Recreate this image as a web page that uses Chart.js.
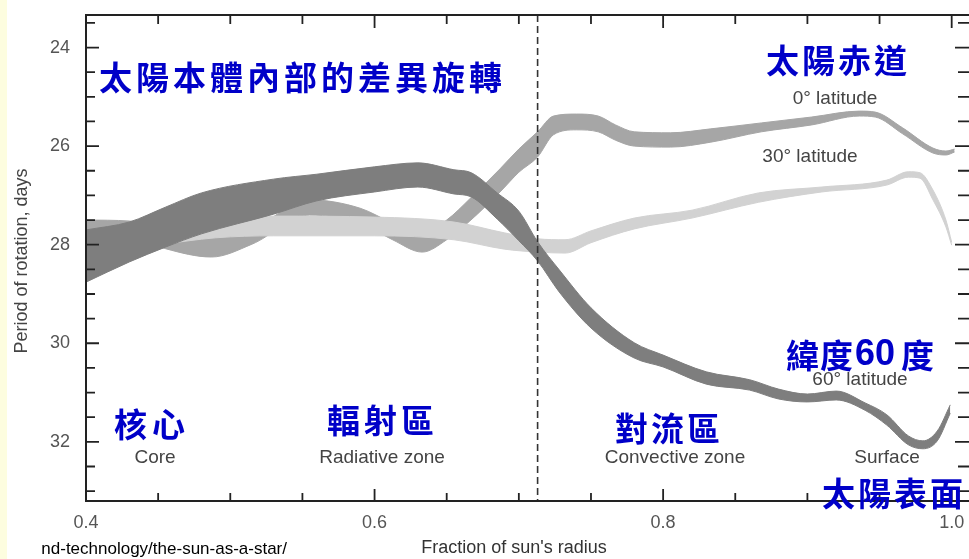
<!DOCTYPE html>
<html>
<head>
<meta charset="utf-8">
<script src="https://cdn.jsdelivr.net/npm/chart.js@4.4.1/dist/chart.umd.min.js"></script>
<style>
  html, body { margin: 0; padding: 0; background: #fff; overflow: hidden; }
  canvas { display: block; }
</style>
</head>
<body>
<canvas id="graficoSol" width="969" height="559"></canvas>
<script>
// Rotação do sol por profundidade (fração do raio) - três faixas de latitude.
// Cada faixa tem borda de cima e de baixo, o miolo é preenchido entre elas.

// 60° de latitude (faixa escura)
const raio60 = [0.4, 0.43, 0.455, 0.48, 0.53, 0.56, 0.6, 0.63, 0.655, 0.667, 0.685, 0.70, 0.713, 0.728, 0.75, 0.78, 0.80, 0.83, 0.86, 0.88, 0.90, 0.92, 0.94, 0.955, 0.97, 0.98, 0.99, 0.999];
const topo60 = [27.70, 27.54, 27.24, 26.95, 26.67, 26.57, 26.42, 26.34, 26.48, 26.54, 26.95, 27.32, 27.94, 28.51, 29.28, 29.99, 30.24, 30.58, 30.74, 30.93, 31.03, 30.97, 31.21, 31.45, 31.88, 31.98, 31.78, 31.25];
const base60 = [28.76, 28.35, 28.05, 27.78, 27.38, 27.11, 26.93, 26.83, 26.97, 27.03, 27.48, 27.92, 28.33, 28.96, 29.69, 30.30, 30.48, 30.83, 30.95, 31.13, 31.19, 31.15, 31.36, 31.66, 32.06, 32.14, 31.98, 31.42];

// 30° de latitude (faixa clara)
const raio30 = [0.4, 0.45, 0.49, 0.53, 0.6, 0.655, 0.69, 0.713, 0.732, 0.75, 0.78, 0.82, 0.866, 0.91, 0.955, 0.97, 0.978, 0.987, 0.996, 1.0];
const topo30 = [27.85, 27.66, 27.54, 27.42, 27.44, 27.54, 27.76, 27.88, 27.90, 27.72, 27.46, 27.30, 26.95, 26.83, 26.69, 26.52, 26.54, 26.89, 27.50, 27.95];
const base30 = [28.15, 28.00, 27.86, 27.82, 27.82, 27.90, 28.09, 28.15, 28.17, 27.96, 27.68, 27.46, 27.14, 26.93, 26.79, 26.63, 26.65, 27.09, 27.64, 28.01];

// 0° de latitude, equador (faixa média)
const raio0 = [0.4, 0.43, 0.455, 0.487, 0.515, 0.555, 0.59, 0.6125, 0.633, 0.65, 0.666, 0.687, 0.70, 0.713, 0.724, 0.74, 0.755, 0.767, 0.78, 0.805, 0.833, 0.868, 0.903, 0.936, 0.947, 0.966, 0.987, 0.996, 1.002];
const topo0 = [27.50, 27.52, 27.70, 27.85, 27.68, 27.09, 27.26, 27.56, 27.76, 27.50, 27.07, 26.46, 26.06, 25.71, 25.39, 25.35, 25.39, 25.57, 25.71, 25.73, 25.65, 25.53, 25.41, 25.29, 25.31, 25.63, 26.04, 26.10, 26.06];
const base0 = [27.78, 27.82, 28.08, 28.25, 27.99, 27.40, 27.56, 27.90, 28.15, 27.90, 27.52, 26.93, 26.53, 26.22, 25.77, 25.67, 25.71, 25.88, 26.00, 26.02, 25.92, 25.71, 25.57, 25.39, 25.41, 25.75, 26.14, 26.18, 26.12];

const limiteConvectivo = 0.713; // linha tracejada
const xTicks = [0.4, 0.6, 0.8, 1.0];
const yTicks = [24, 26, 28, 30, 32];

const corEscura = '#7e7e7e';
const corMedia = '#a6a6a6';
const corClara = '#d2d2d2';
const azul = '#0000c8';

const pontos = (xs, ys) => xs.map((x, i) => ({ x: x, y: ys[i] }));
const multiplo = (v, s) => Math.abs(v / s - Math.round(v / s)) < 1e-6;

function linha(dados, cor, fill) {
  return {
    data: dados,
    borderColor: cor,
    backgroundColor: cor,
    borderWidth: 1,
    pointRadius: 0,
    cubicInterpolationMode: 'monotone',
    fill: fill
  };
}

// texto com espaçamento entre letras (pros títulos em chinês)
function escreve(ctx, txt, x, y, font, cor, align, espaco) {
  ctx.save();
  ctx.font = font;
  ctx.fillStyle = cor;
  ctx.textAlign = align || 'left';
  ctx.textBaseline = 'middle';
  if (espaco) ctx.letterSpacing = espaco + 'px';
  ctx.fillText(txt, x, y);
  ctx.restore();
}

const extras = {
  id: 'extras',
  beforeDraw(chart) {
    const ctx = chart.ctx;
    ctx.save();
    ctx.fillStyle = '#fff';
    ctx.fillRect(0, 0, chart.width, chart.height);
    ctx.fillStyle = '#fdfddf';
    ctx.fillRect(0, 0, 7, chart.height);
    ctx.restore();
  },
  afterDatasetsDraw(chart) {
    const { ctx, chartArea: a, scales: { x } } = chart;
    const px = x.getPixelForValue(limiteConvectivo);
    ctx.save();
    ctx.strokeStyle = '#333';
    ctx.lineWidth = 1.6;
    ctx.setLineDash([7, 4]);
    ctx.beginPath();
    ctx.moveTo(px, a.top);
    ctx.lineTo(px, a.bottom);
    ctx.stroke();
    ctx.restore();
  },
  afterDraw(chart) {
    const { ctx, chartArea: a, scales: { x, y } } = chart;
    ctx.save();
    ctx.strokeStyle = '#222';
    ctx.lineWidth = 2;
    ctx.beginPath();
    ctx.moveTo(a.right, a.top);
    ctx.lineTo(a.left, a.top);
    ctx.lineTo(a.left, a.bottom);
    ctx.lineTo(a.right, a.bottom);
    ctx.stroke();

    // marcas pra dentro, em todos os lados
    ctx.lineWidth = 1.8;
    ctx.beginPath();
    x.ticks.forEach(t => {
      if (!multiplo(t.value, 0.05)) return;
      const p = x.getPixelForValue(t.value);
      const grande = xTicks.some(v => Math.abs(v - t.value) < 1e-6);
      ctx.moveTo(p, a.bottom); ctx.lineTo(p, a.bottom - (grande ? 12 : 8));
      ctx.moveTo(p, a.top); ctx.lineTo(p, a.top + (grande ? 13 : 9));
    });
    y.ticks.forEach(t => {
      if (!multiplo(t.value, 0.5)) return;
      const p = y.getPixelForValue(t.value);
      const grande = yTicks.includes(t.value);
      ctx.moveTo(a.left, p); ctx.lineTo(a.left + (grande ? 13 : 9), p);
      ctx.moveTo(a.right, p); ctx.lineTo(a.right - (grande ? 14 : 11), p);
    });
    ctx.stroke();
    ctx.restore();

    const en = '19px "Liberation Sans", Arial, sans-serif';
    const cinza = '#444';
    escreve(ctx, '0\u00b0 latitude', 835, 99, en, cinza, 'center');
    escreve(ctx, '30\u00b0 latitude', 810, 157, en, cinza, 'center');
    escreve(ctx, '60\u00b0 latitude', 860, 380, en, cinza, 'center');
    escreve(ctx, 'Core', 155, 458, en, cinza, 'center');
    escreve(ctx, 'Radiative zone', 382, 458, en, cinza, 'center');
    escreve(ctx, 'Convective zone', 675, 458, en, cinza, 'center');
    escreve(ctx, 'Surface', 887, 458, en, cinza, 'center');

    // títulos dos eixos
    escreve(ctx, "Fraction of sun's radius", 514, 548, '18px "Liberation Sans", Arial, sans-serif', '#333', 'center');
    ctx.save();
    ctx.translate(22, 261);
    ctx.rotate(-Math.PI / 2);
    escreve(ctx, 'Period of rotation, days', 0, 0, '18px "Liberation Sans", Arial, sans-serif', '#444', 'center');
    ctx.restore();

    // pedaço do link da fonte, cortado na esquerda
    escreve(ctx, 'nd-technology/the-sun-as-a-star/', 287, 549, '17px "Liberation Sans", Arial, sans-serif', '#000', 'right');

    // anotações em azul
    const zh = 'bold 33px "Noto Sans CJK TC", sans-serif';
    escreve(ctx, '太陽本體內部的差異旋轉', 99, 77, zh, azul, 'left', 4);
    escreve(ctx, '太陽赤道', 766, 60, zh, azul, 'left', 3);
    escreve(ctx, '緯度', 786, 355, zh, azul, 'left', 1);
    escreve(ctx, '60', 855, 355, 'bold 36px "Liberation Sans", Arial, sans-serif', azul, 'left');
    escreve(ctx, '度', 901, 355, zh, azul, 'left');
    escreve(ctx, '太陽表面', 822, 493, zh, azul, 'left', 3);
    escreve(ctx, '對流區', 615, 428, zh, azul, 'left', 3);
    escreve(ctx, '輻射區', 327, 420, zh, azul, 'left', 4);
    escreve(ctx, '核心', 114, 424, zh, azul, 'left', 5);
  }
};

const ctx = document.getElementById('graficoSol').getContext('2d');

new Chart(ctx, {
  type: 'line',
  data: {
    datasets: [
      // ordem: a escura fica por cima, depois a clara, a média por baixo
      linha(pontos(raio60, topo60), corEscura, false),
      linha(pontos(raio60, base60), corEscura, '-1'),
      linha(pontos(raio30, topo30), corClara, false),
      linha(pontos(raio30, base30), corClara, '-1'),
      linha(pontos(raio0, topo0), corMedia, false),
      linha(pontos(raio0, base0), corMedia, '-1')
    ]
  },
  options: {
    responsive: false,
    animation: false,
    layout: { padding: { top: 15, left: 0, right: 0, bottom: 0 } },
    plugins: { legend: { display: false }, tooltip: { enabled: false } },
    scales: {
      x: {
        type: 'linear',
        min: 0.4,
        max: 1.012,
        grid: { display: false },
        border: { display: false },
        afterFit: s => { s.height = 58; s.paddingLeft = 0; s.paddingRight = 0; },
        ticks: {
          stepSize: 0.05,
          includeBounds: false,
          autoSkip: false,
          maxRotation: 0,
          padding: 3,
          color: '#555',
          font: { family: '"Liberation Sans", Arial, sans-serif', size: 18 },
          callback: v => xTicks.some(t => Math.abs(t - v) < 1e-6) ? v.toFixed(1) : ''
        }
      },
      y: {
        type: 'linear',
        reverse: true,
        min: 23.34,
        max: 33.2,
        grid: { display: false },
        border: { display: false },
        afterFit: s => { s.width = 86; s.paddingTop = 0; s.paddingBottom = 0; },
        ticks: {
          stepSize: 0.5,
          includeBounds: false,
          autoSkip: false,
          padding: 8,
          color: '#555',
          font: { family: '"Liberation Sans", Arial, sans-serif', size: 18 },
          callback: v => yTicks.includes(v) ? String(v) : ''
        }
      }
    }
  },
  plugins: [extras]
});
</script>
</body>
</html>
